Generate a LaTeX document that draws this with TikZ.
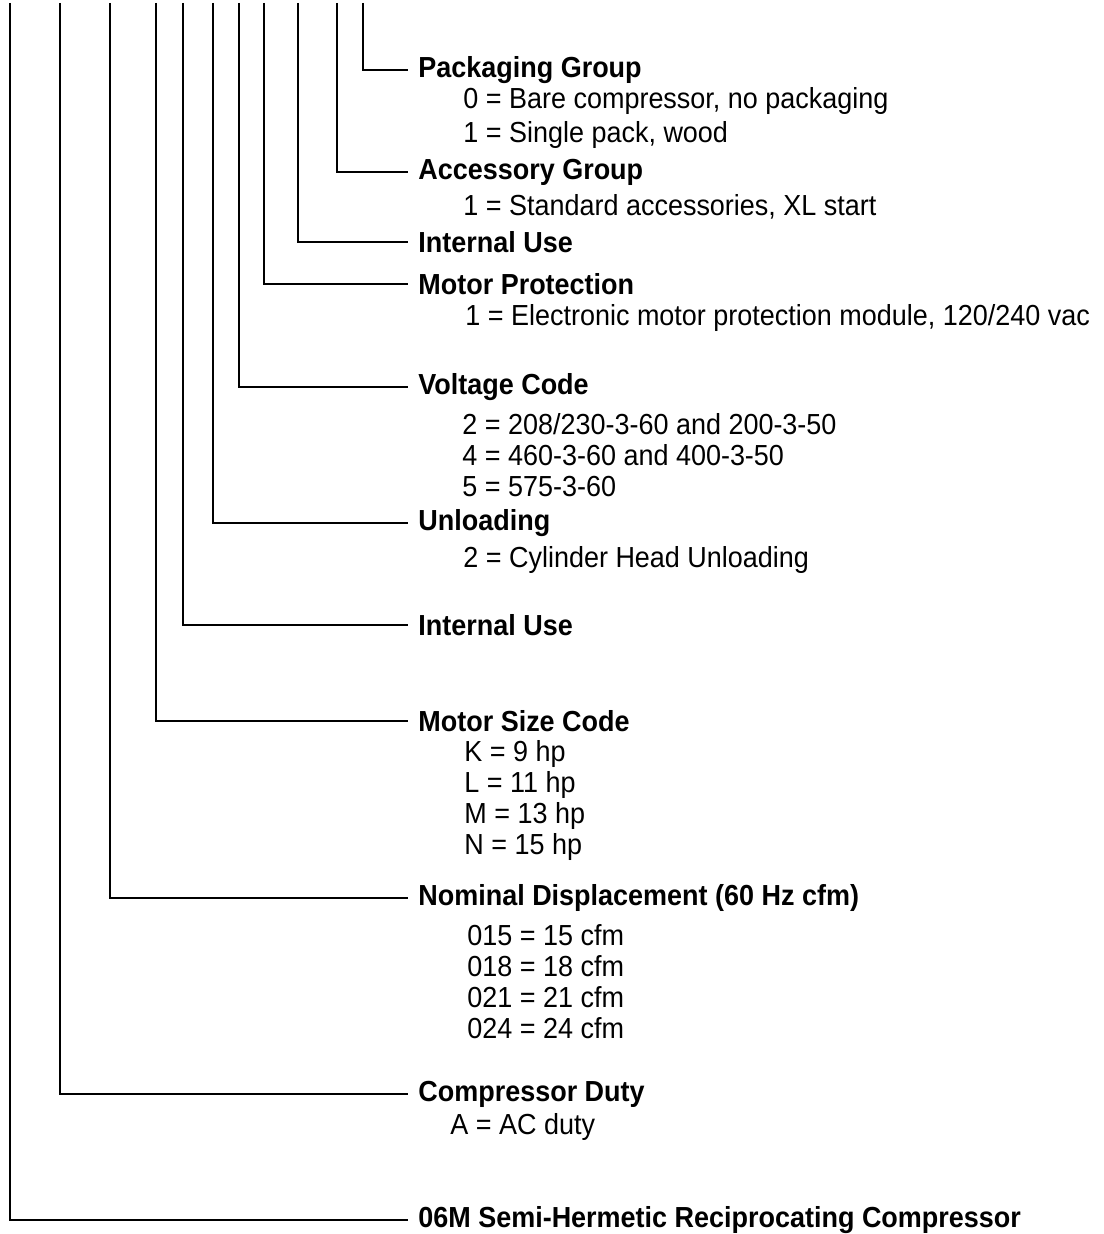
\documentclass[tikz,border=0pt]{standalone}
\usepackage{fontspec}
\setmainfont{Liberation Sans}[FakeStretch=0.93]
\tikzset{
  heading/.style={anchor=west, inner xsep=5pt, inner ysep=0pt, font=\fontsize{14.5}{15.5}\selectfont\bfseries},
  codes/.style={anchor=west, inner sep=0pt, align=left, font=\fontsize{14.5}{15.5}\selectfont},
  lead/.style={line width=0.75pt}
}
\begin{document}
\begin{tikzpicture}[x=0.5pt,y=-0.5pt]
\useasboundingbox (0,0) rectangle (1103,1234);
% Draw the group headings, one per digit of the model number
\node[heading] (pack) at (408,70) {Packaging Group};
\node[heading] (acc) at (408,172) {Accessory Group};
\node[heading] (int1) at (408,242) {Internal Use};
\node[heading] (prot) at (408,284) {Motor Protection};
\node[heading] (volt) at (408,387) {Voltage Code};
\node[heading] (unl) at (408,523) {Unloading};
\node[heading] (int2) at (408,625) {Internal Use};
\node[heading] (msize) at (408,721) {Motor Size Code};
\node[heading] (disp) at (408,898) {Nominal Displacement (60 Hz cfm)};
\node[heading] (duty) at (408,1094) {Compressor Duty};
\node[heading] (comp) at (408,1220) {06M Semi-Hermetic Reciprocating Compressor};
% Draw the codes under the headings
\node[codes] (pack-c) at (463,118) {0 = Bare compressor, no packaging\\[1.5pt]1 = Single pack, wood};
\node[codes] (acc-c) at (463,207) {1 = Standard accessories, XL start};
\node[codes] (prot-c) at (465,318) {1 = Electronic motor protection module, 120/240 vac};
\node[codes] (volt-c) at (462,455) {2 = 208/230-3-60 and 200-3-50\\4 = 460-3-60 and 400-3-50\\5 = 575-3-60};
\node[codes] (unl-c) at (463,560) {2 = Cylinder Head Unloading};
\node[codes] (msize-c) at (464,800) {K = 9 hp\\L = 11 hp\\M = 13 hp\\N = 15 hp};
\node[codes] (disp-c) at (467,982) {015 = 15 cfm\\018 = 18 cfm\\021 = 21 cfm\\024 = 24 cfm};
\node[codes] (duty-c) at (450,1127) {A = AC duty};
% Draw the lines from the top edge down and across to each heading
\foreach \x/\n in {363/pack, 337/acc, 298/int1, 264/prot, 239/volt, 213/unl, 183/int2, 156/msize, 110/disp, 60/duty, 10/comp}
{
  \coordinate (top-\n) at (\x,3);
  \draw[lead] (top-\n) |- (\n.west);
}
\end{tikzpicture}
\end{document}
